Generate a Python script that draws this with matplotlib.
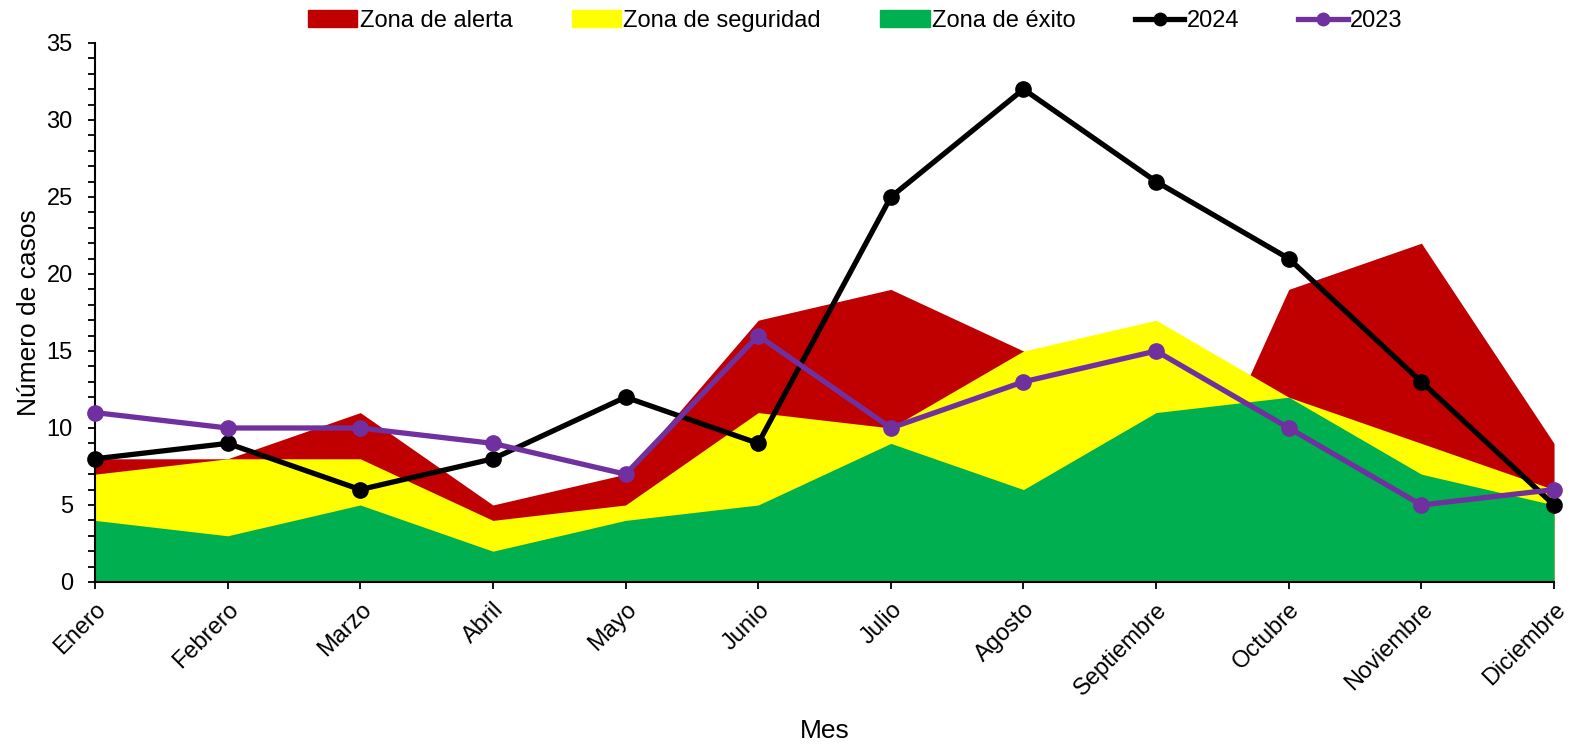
import matplotlib.pyplot as plt
from matplotlib.patches import Patch
from matplotlib.lines import Line2D
from matplotlib.ticker import MultipleLocator

plt.rcParams['font.family'] = ['Liberation Sans', 'DejaVu Sans']

meses = ['Enero', 'Febrero', 'Marzo', 'Abril', 'Mayo', 'Junio', 'Julio',
         'Agosto', 'Septiembre', 'Octubre', 'Noviembre', 'Diciembre']
zona_alerta = [8, 8, 11, 5, 7, 17, 19, 15, 0, 19, 22, 9]
zona_seguridad = [7, 8, 8, 4, 5, 11, 10, 15, 17, 12, 9, 6]
zona_exito = [4, 3, 5, 2, 4, 5, 9, 6, 11, 12, 7, 5]
casos_2024 = [8, 9, 6, 8, 12, 9, 25, 32, 26, 21, 13, 5]
casos_2023 = [11, 10, 10, 9, 7, 16, 10, 13, 15, 10, 5, 6]

rojo = '#C00000'
amarillo = '#FFFF00'
verde = '#00B050'
morado = '#7030A0'

x = list(range(len(meses)))

fig = plt.figure(figsize=(15.75, 7.45), dpi=100)
ax = fig.add_axes([0.0603, 0.2188, 0.9264, 0.7235])

# zonas superpuestas desde cero, la roja detras
ax.fill_between(x, 0, zona_alerta, color=rojo, lw=0)
ax.fill_between(x, 0, zona_seguridad, color=amarillo, lw=0)
ax.fill_between(x, 0, zona_exito, color=verde, lw=0)

ax.plot(x, casos_2024, color='black', lw=3.8, marker='o', ms=11, zorder=4, clip_on=False)
ax.plot(x, casos_2023, color=morado, lw=3.8, marker='o', ms=11, zorder=5, clip_on=False)

ax.set_xlim(0, 11)
ax.set_ylim(0, 35)
ax.yaxis.set_major_locator(MultipleLocator(5))
ax.yaxis.set_minor_locator(MultipleLocator(1))
ax.set_xticks(x)
ax.set_xticklabels(meses, rotation=45, ha='right', rotation_mode='anchor')

ax.spines['top'].set_visible(False)
ax.spines['right'].set_visible(False)
for s in ('left', 'bottom'):
    ax.spines[s].set_linewidth(1.5)
ax.tick_params(axis='both', which='major', labelsize=17, length=5, width=1.3, direction='out')
ax.tick_params(axis='y', which='minor', length=5, width=1.3, direction='out')
ax.tick_params(axis='x', pad=7)
ax.tick_params(axis='y', which='major', pad=11)

ax.set_ylabel('Número de casos', fontsize=19, labelpad=4)
ax.set_xlabel('Mes', fontsize=19, labelpad=14)

handles = [
    Patch(color=rojo, label='Zona de alerta'),
    Patch(color=amarillo, label='Zona de seguridad'),
    Patch(color=verde, label='Zona de éxito'),
    Line2D([], [], color='black', lw=3.8, marker='o', ms=9, label='2024'),
    Line2D([], [], color=morado, lw=3.8, marker='o', ms=9, label='2023'),
]
fig.legend(handles=handles, loc='center', bbox_to_anchor=(0.543, 0.972), ncol=5,
           frameon=False, fontsize=17, handlelength=2.1, handleheight=0.7,
           handletextpad=0.1, columnspacing=2.5)

fig.savefig('out.png', dpi=100)
